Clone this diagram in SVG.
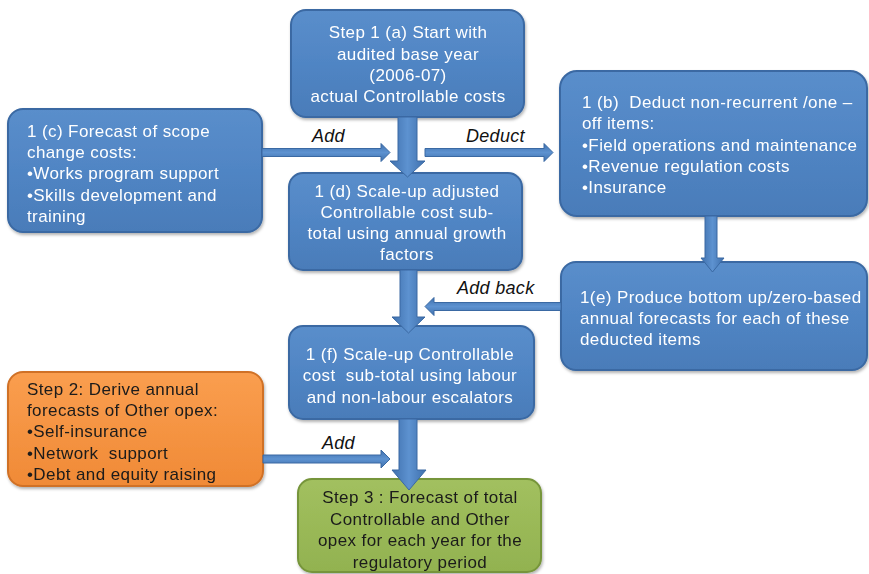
<svg xmlns="http://www.w3.org/2000/svg" width="869" height="574" viewBox="0 0 869 574">
<style>
.t{font-family:"Liberation Sans",Arial,sans-serif;font-size:17px;letter-spacing:0.4px;white-space:pre}
.w{fill:#ffffff}
.k{fill:#1a1a1a}
.c{text-anchor:middle}
.lab{font-family:"Liberation Sans",Arial,sans-serif;font-size:18px;letter-spacing:0.3px;font-style:italic;fill:#111}
.bb{fill:url(#gb);stroke:#3a69a3;stroke-width:2}
.bo{fill:url(#go);stroke:#d07126;stroke-width:2}
.bg{fill:url(#gg);stroke:#76953a;stroke-width:2}
.ar{fill:url(#ga);stroke:#3a69a3;stroke-width:1}
.ah{fill:url(#gh);stroke:#3a69a3;stroke-width:1}
</style>
<defs>
<linearGradient id="gb" x1="0" y1="0" x2="0" y2="1"><stop offset="0" stop-color="#5a8ecb"/><stop offset="0.5" stop-color="#5085c4"/><stop offset="1" stop-color="#4a7cb9"/></linearGradient>
<linearGradient id="go" x1="0" y1="0" x2="0" y2="1"><stop offset="0" stop-color="#fa9e4f"/><stop offset="1" stop-color="#f08a36"/></linearGradient>
<linearGradient id="gg" x1="0" y1="0" x2="0" y2="1"><stop offset="0" stop-color="#a2c05f"/><stop offset="1" stop-color="#92b250"/></linearGradient>
<linearGradient id="ga" x1="0" y1="0" x2="1" y2="0"><stop offset="0" stop-color="#3f70ad"/><stop offset="0.5" stop-color="#5d92d0"/><stop offset="1" stop-color="#3f70ad"/></linearGradient>
<linearGradient id="gh" x1="0" y1="0" x2="0" y2="1"><stop offset="0" stop-color="#3f70ad"/><stop offset="0.5" stop-color="#5d92d0"/><stop offset="1" stop-color="#3f70ad"/></linearGradient>
<filter id="sh" x="-5%" y="-5%" width="115%" height="120%"><feDropShadow dx="1" dy="2" stdDeviation="1.5" flood-color="#000" flood-opacity="0.3"/></filter>
</defs>
<rect width="869" height="574" fill="#ffffff"/>

<g id="node-a" filter="url(#sh)">
<rect class="bb" x="291" y="10" width="233" height="107" rx="15"/>
<text class="t w c" x="408" y="38">Step 1 (a) Start with</text>
<text class="t w c" x="408" y="60">audited base year</text>
<text class="t w c" x="408" y="81">(2006-07)</text>
<text class="t w c" x="408" y="102">actual Controllable costs</text>
</g>

<g id="node-b" filter="url(#sh)">
<rect class="bb" x="560" y="71" width="307" height="145" rx="17"/>
<text class="t w" x="582" y="108">1 (b)  Deduct non-recurrent /one –</text>
<text class="t w" x="582" y="129">off items:</text>
<text class="t w" x="582" y="151">•Field operations and maintenance</text>
<text class="t w" x="582" y="172">•Revenue regulation costs</text>
<text class="t w" x="582" y="193">•Insurance</text>
</g>

<g id="node-c" filter="url(#sh)">
<rect class="bb" x="8" y="109" width="254" height="123" rx="15"/>
<text class="t w" x="27" y="137">1 (c) Forecast of scope</text>
<text class="t w" x="27" y="158">change costs:</text>
<text class="t w" x="27" y="179">•Works program support</text>
<text class="t w" x="27" y="201">•Skills development and</text>
<text class="t w" x="27" y="222">training</text>
</g>

<g id="node-d" filter="url(#sh)">
<rect class="bb" x="289" y="173" width="233" height="97" rx="14"/>
<text class="t w c" x="407" y="197">1 (d) Scale-up adjusted</text>
<text class="t w c" x="407" y="218">Controllable cost sub-</text>
<text class="t w c" x="407" y="239">total using annual growth</text>
<text class="t w c" x="407" y="260">factors</text>
</g>

<g id="node-e" filter="url(#sh)">
<rect class="bb" x="561" y="262" width="306" height="108" rx="15"/>
<text class="t w" x="580" y="303">1(e) Produce bottom up/zero-based</text>
<text class="t w" x="580" y="324">annual forecasts for each of these</text>
<text class="t w" x="580" y="345">deducted items</text>
</g>

<g id="node-f" filter="url(#sh)">
<rect class="bb" x="289" y="326" width="245" height="93" rx="14"/>
<text class="t w c" x="410" y="360">1 (f) Scale-up Controllable</text>
<text class="t w c" x="410" y="381">cost  sub-total using labour</text>
<text class="t w c" x="410" y="403">and non-labour escalators</text>
</g>

<g id="node-g" filter="url(#sh)">
<rect class="bo" x="8" y="372" width="255" height="114" rx="15"/>
<text class="t k" x="27" y="395">Step 2: Derive annual</text>
<text class="t k" x="27" y="416">forecasts of Other opex:</text>
<text class="t k" x="27" y="437">•Self-insurance</text>
<text class="t k" x="27" y="459">•Network  support</text>
<text class="t k" x="27" y="480">•Debt and equity raising</text>
</g>

<g id="node-h" filter="url(#sh)">
<rect class="bg" x="298" y="479" width="243" height="93" rx="14"/>
<text class="t k c" x="420" y="503">Step 3 : Forecast of total</text>
<text class="t k c" x="420" y="525">Controllable and Other</text>
<text class="t k c" x="420" y="546">opex for each year for the</text>
<text class="t k c" x="420" y="568">regulatory period</text>
</g>

<g id="connectors">
<polygon class="ar" points="398,117 417,117 417,161 425,161 407.5,177 390,161 398,161"/>
<polygon class="ar" points="400,270 417,270 417,317 425,317 408.5,333 392,317 400,317"/>
<polygon class="ar" points="399,419 417,419 417,470 426,470 409,490 392,470 399,470"/>
<polygon class="ar" points="705,216 717,216 717,258 724,258 712.5,272 701,258 705,258"/>
<polygon class="ah" points="262,148.5 381,148.5 381,143.5 390,152.5 381,161.5 381,156.5 262,156.5"/>
<polygon class="ah" points="425,148.5 544,148.5 544,143.5 553,152.5 544,161.5 544,156.5 425,156.5"/>
<polygon class="ah" points="561,302.5 434,302.5 434,297.5 425,306.5 434,315.5 434,310.5 561,310.5"/>
<polygon class="ah" points="263,455 381,455 381,450 390,459 381,468 381,463 263,463"/>
<text class="lab" x="312" y="142">Add</text>
<text class="lab" x="466" y="142">Deduct</text>
<text class="lab" x="457" y="294">Add back</text>
<text class="lab" x="322" y="449">Add</text>
</g>
</svg>
